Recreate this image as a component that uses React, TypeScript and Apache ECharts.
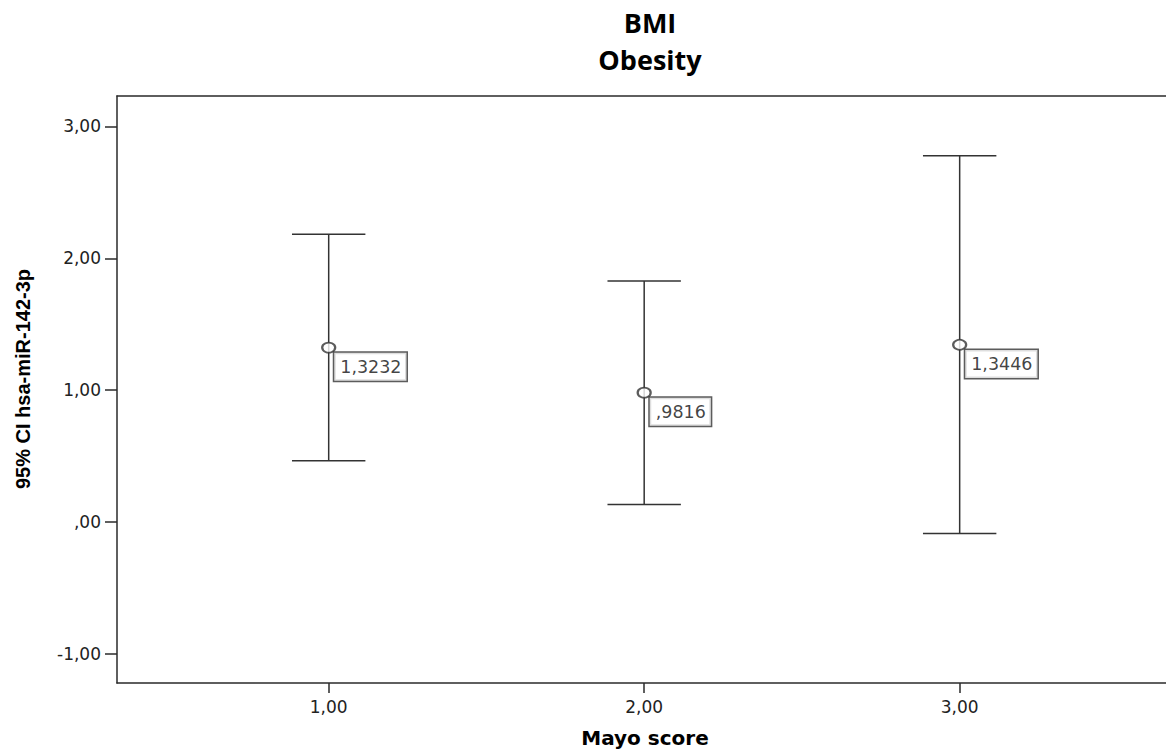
import React, { useEffect, useRef } from "react";
import * as echarts from "echarts";

const groups = [1, 2, 3];
const xTickValues = [1, 2, 3];
const yTickValues = [-1, 0, 1, 2, 3];
const means = [1.3232, 0.9816, 1.3446];
const lowerCI = [0.465, 0.134, -0.086];
const upperCI = [2.183, 1.829, 2.777];

const fmtTick = (v: number) => {
  const s = Math.abs(v).toFixed(2).replace(".", ",").replace(/^0/, "");
  return (v < 0 ? "-" : "") + s;
};
const fmtMean = (v: number) => v.toFixed(4).replace(".", ",").replace(/^0/, "");

export default function App() {
  const ref = useRef<HTMLDivElement>(null);
  useEffect(() => {
    if (!ref.current) return;
    const chart = echarts.init(ref.current, undefined, { renderer: "svg" });
    const axisColor = "#2a2a2a";
    const lineStyle = { color: axisColor, width: 1.5 };
    chart.setOption({
      animation: false,
      backgroundColor: "#fff",
      grid: { left: 117, top: 96, right: 0, bottom: 70 },
      xAxis: [
        {
          type: "value",
          min: 0.329,
          max: 3.654,
          position: "bottom",
          axisLine: { show: true, onZero: false, lineStyle },
          axisTick: { show: true, length: 10, lineStyle, customValues: xTickValues },
          axisLabel: {
            show: true,
            margin: 15,
            color: "#222",
            fontFamily: "DejaVu Sans",
            fontSize: 17,
            customValues: xTickValues,
            formatter: (v: number) => fmtTick(v),
          },
          splitLine: { show: false },
        },
        {
          type: "value",
          min: 0.329,
          max: 3.654,
          position: "top",
          axisLine: { show: true, onZero: false, lineStyle },
          axisTick: { show: false },
          axisLabel: { show: false },
          splitLine: { show: false },
        },
      ],
      yAxis: {
        type: "value",
        min: -1.22,
        max: 3.231,
        axisLine: { show: true, onZero: false, lineStyle },
        axisTick: { show: true, length: 12, lineStyle, customValues: yTickValues },
        axisLabel: {
          show: true,
          margin: 16,
          color: "#222",
          fontFamily: "DejaVu Sans",
          fontSize: 17,
          customValues: yTickValues,
          formatter: (v: number) => fmtTick(v),
        },
        splitLine: { show: false },
      },
      graphic: [
        {
          type: "text",
          x: 650,
          y: 22,
          style: {
            text: "BMI",
            fontFamily: "Open Sans",
            fontWeight: "bold",
            fontSize: 27,
            fill: "#000",
            align: "center",
            verticalAlign: "middle",
          },
        },
        {
          type: "text",
          x: 650,
          y: 59,
          style: {
            text: "Obesity",
            fontFamily: "Open Sans",
            fontWeight: "bold",
            fontSize: 27,
            fill: "#000",
            align: "center",
            verticalAlign: "middle",
          },
        },
        {
          type: "text",
          x: 645,
          y: 738,
          style: {
            text: "Mayo score",
            fontFamily: "DejaVu Sans",
            fontWeight: "bold",
            fontSize: 20,
            fill: "#000",
            align: "center",
            verticalAlign: "middle",
          },
        },
        {
          type: "text",
          x: 23,
          y: 379,
          rotation: Math.PI / 2,
          style: {
            text: "95% CI hsa-miR-142-3p",
            fontFamily: "Liberation Sans",
            fontWeight: "bold",
            fontSize: 20,
            fill: "#000",
            align: "center",
            verticalAlign: "middle",
          },
        },
      ],
      series: [
        {
          type: "custom",
          xAxisIndex: 0,
          data: groups.map((g, i) => [g, lowerCI[i], upperCI[i]]),
          renderItem: (params: any, api: any) => {
            const x = api.value(0);
            const pLo = api.coord([x, api.value(1)]);
            const pHi = api.coord([x, api.value(2)]);
            const hw = 36.7;
            const st = { stroke: "#333", lineWidth: 1.5 };
            return {
              type: "group",
              children: [
                { type: "line", shape: { x1: pLo[0], y1: pLo[1], x2: pHi[0], y2: pHi[1] }, style: st },
                { type: "line", shape: { x1: pLo[0] - hw, y1: pLo[1], x2: pLo[0] + hw, y2: pLo[1] }, style: st },
                { type: "line", shape: { x1: pHi[0] - hw, y1: pHi[1], x2: pHi[0] + hw, y2: pHi[1] }, style: st },
              ],
            };
          },
          z: 1,
        },
        {
          type: "scatter",
          xAxisIndex: 0,
          data: groups.map((g, i) => [g, means[i]]),
          symbol: "emptyCircle",
          symbolSize: [13, 10],
          itemStyle: { color: "#333", borderColor: "#333", borderWidth: 1.5 },
          z: 3,
          label: {
            show: true,
            position: [13.2, 11],
            formatter: (p: any) => fmtMean(p.value[1]),
            fontFamily: "DejaVu Sans",
            fontSize: 17.5,
            lineHeight: 19,
            color: "#111",
            backgroundColor: "#fff",
            borderColor: "#333",
            borderWidth: 1.5,
            padding: [5, 5, 4, 6],
          },
        },
      ],
    });
    return () => chart.dispose();
  }, []);
  return (
    <div
      ref={ref}
      style={{ position: "fixed", left: 0, top: 0, width: 1166, height: 753 }}
    />
  );
}
